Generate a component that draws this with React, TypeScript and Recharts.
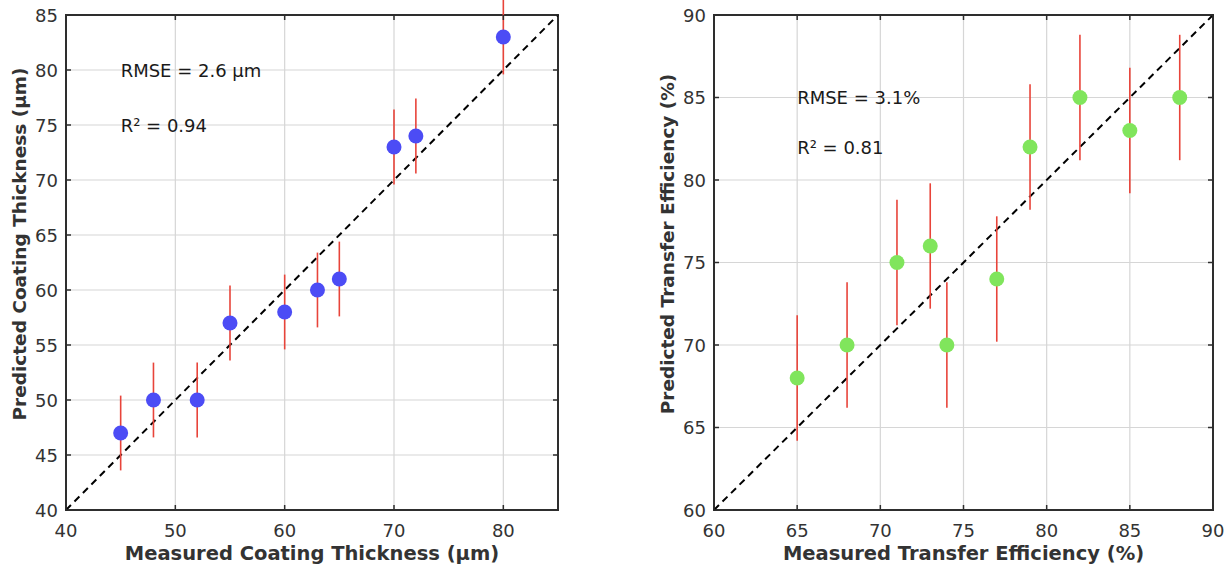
import React from 'react'
import {
  ScatterChart,
  Scatter,
  XAxis,
  YAxis,
  CartesianGrid,
  ErrorBar,
  ReferenceLine,
  ReferenceDot,
  ReferenceArea
} from 'recharts'

// coating thickness panel
const coatMeasured = [45, 48, 52, 55, 60, 63, 65, 70, 72, 80]
const coatPredicted = [47, 50, 50, 57, 58, 60, 61, 73, 74, 83]
const coatError = [3.4, 3.4, 3.4, 3.4, 3.4, 3.4, 3.4, 3.4, 3.4, 3.4]
const coatXTicks = [40, 50, 60, 70, 80]
const coatYTicks = [40, 45, 50, 55, 60, 65, 70, 75, 80, 85]

// transfer efficiency panel
const effMeasured = [65, 68, 71, 73, 74, 77, 79, 82, 85, 88]
const effPredicted = [68, 70, 75, 76, 70, 74, 82, 85, 83, 85]
const effError = [3.8, 3.8, 3.8, 3.8, 3.8, 3.8, 3.8, 3.8, 3.8, 3.8]
const effXTicks = [60, 65, 70, 75, 80, 85, 90]
const effYTicks = [60, 65, 70, 75, 80, 85, 90]

const AXIS = '#2e2e2e'
const TEXT = '#333333'
const FONT = '"DejaVu Sans", Verdana, sans-serif'

type Row = { meas: number; pred: number; err: number }

function toRows(meas: number[], pred: number[], err: number[]): Row[] {
  return meas.map((m, i) => ({ meas: m, pred: pred[i], err: err[i] }))
}

function BottomTick(props: any) {
  const { x, y, payload } = props
  return (
    <g>
      <line x1={x} x2={x} y1={y} y2={y - 5} stroke={AXIS} strokeWidth={1.5} />
      <text x={x} y={y + 20} textAnchor="middle" dominantBaseline="central" fontSize={18} fill={TEXT} fontFamily={FONT}>
        {payload.value}
      </text>
    </g>
  )
}

function TopTick(props: any) {
  const { x, y } = props
  return <line x1={x} x2={x} y1={y} y2={y + 5} stroke={AXIS} strokeWidth={1.5} />
}

function LeftTick(props: any) {
  const { x, y, payload } = props
  return (
    <g>
      <line x1={x} x2={x + 5} y1={y} y2={y} stroke={AXIS} strokeWidth={1.5} />
      <text x={x - 8} y={y} textAnchor="end" dominantBaseline="central" fontSize={18} fill={TEXT} fontFamily={FONT}>
        {payload.value}
      </text>
    </g>
  )
}

function RightTick(props: any) {
  const { x, y } = props
  return <line x1={x} x2={x - 5} y1={y} y2={y} stroke={AXIS} strokeWidth={1.5} />
}

interface PanelProps {
  width: number
  rows: Row[]
  domain: [number, number]
  xTicks: number[]
  yTicks: number[]
  leftWidth: number
  rightMargin: number
  yLabelX: number
  color: string
  title: string
  xLabel: string
  yLabel: string
  notes: { x: number; y: number; text: string }[]
}

const HEIGHT = 568
const TOP = 15
const BOTTOM_AXIS = 58

function ParityPanel(p: PanelProps) {
  const plotLeft = p.leftWidth
  const plotRight = p.width - p.rightMargin
  const plotMid = (plotLeft + plotRight) / 2
  const yLabelMid = 244
  return (
    <div style={{ position: 'relative', width: p.width, height: HEIGHT }}>
      <ScatterChart width={p.width} height={HEIGHT} margin={{ top: TOP - 1, right: p.rightMargin - 1, bottom: 0, left: 0 }}>
        <CartesianGrid stroke="#d6d6d6" strokeWidth={1.2} />
        <XAxis
          type="number"
          dataKey="meas"
          domain={p.domain}
          ticks={p.xTicks}
          allowDataOverflow
          height={BOTTOM_AXIS}
          tickSize={0}
          tickMargin={0}
          tickLine={false}
          tick={<BottomTick />}
          axisLine={false}
        />
        <XAxis
          xAxisId="top"
          orientation="top"
          type="number"
          dataKey="meas"
          domain={p.domain}
          ticks={p.xTicks}
          allowDataOverflow
          height={1}
          tickSize={0}
          tickMargin={0}
          tickLine={false}
          tick={<TopTick />}
          axisLine={false}
        />
        <YAxis
          type="number"
          dataKey="pred"
          domain={p.domain}
          ticks={p.yTicks}
          allowDataOverflow
          width={p.leftWidth}
          tickSize={0}
          tickMargin={0}
          tickLine={false}
          tick={<LeftTick />}
          axisLine={false}
        />
        <YAxis
          yAxisId="right"
          orientation="right"
          type="number"
          dataKey="pred"
          domain={p.domain}
          ticks={p.yTicks}
          allowDataOverflow
          width={1}
          tickSize={0}
          tickMargin={0}
          tickLine={false}
          tick={<RightTick />}
          axisLine={false}
        />
        <ReferenceLine
          segment={[
            { x: p.domain[0], y: p.domain[0] },
            { x: p.domain[1], y: p.domain[1] }
          ]}
          stroke="#000000"
          strokeWidth={2}
          strokeDasharray="7 5"
        />
        {p.notes.map((n) => (
          <ReferenceDot
            key={n.text}
            x={n.x}
            y={n.y}
            r={0}
            shape={(s: any) => (
              <text x={s.cx} y={s.cy} dominantBaseline="central" fontSize={18} fill="#1a1a1a" fontFamily={FONT}>
                {n.text}
              </text>
            )}
          />
        ))}
        <Scatter
          data={p.rows}
          isAnimationActive={false}
          shape={(s: any) => <circle cx={s.cx} cy={s.cy} r={7.5} fill={p.color} />}
        />
        <Scatter data={p.rows} isAnimationActive={false} shape={() => <g />}>
          <ErrorBar dataKey="err" direction="y" width={0} stroke="#e8443a" strokeWidth={1.6} isAnimationActive={false} />
        </Scatter>
        <ReferenceArea
          x1={p.domain[0]}
          x2={p.domain[1]}
          y1={p.domain[0]}
          y2={p.domain[1]}
          fill="none"
          fillOpacity={0}
          stroke={AXIS}
          strokeWidth={2}
        />
      </ScatterChart>
      <svg
        width={p.width}
        height={HEIGHT}
        style={{ position: 'absolute', left: 0, top: 0, pointerEvents: 'none' }}
      >
        <text
          x={plotMid}
          y={560}
          textAnchor="middle"
          fontSize={19.5}
          fontWeight="bold"
          fill={TEXT}
          fontFamily={FONT}
        >
          {p.xLabel}
        </text>
        <text
          x={p.yLabelX}
          y={yLabelMid}
          textAnchor="middle"
          dominantBaseline="central"
          fontSize={18.5}
          fontWeight="bold"
          fill={TEXT}
          fontFamily={FONT}
          transform={`rotate(-90 ${p.yLabelX} ${yLabelMid})`}
        >
          {p.yLabel}
        </text>
      </svg>
      <div style={{ position: 'absolute', left: 0, top: 7, width: p.width, height: 6, overflow: 'hidden' }}>
        <svg width={p.width} height={6}>
          <text x={plotMid} y={1} textAnchor="middle" fontSize={16} fontWeight="bold" fill="#222" fontFamily={FONT}>
            {p.title}
          </text>
        </svg>
      </div>
    </div>
  )
}

export default function App() {
  return (
    <div style={{ display: 'flex', width: 1227, height: HEIGHT, background: '#fff' }}>
      <style>{'body{margin:0}'}</style>
      <ParityPanel
        width={600}
        rows={toRows(coatMeasured, coatPredicted, coatError)}
        domain={[40, 85]}
        xTicks={coatXTicks}
        yTicks={coatYTicks}
        leftWidth={66}
        rightMargin={42}
        yLabelX={19}
        color="#4c4cf5"
        title="Coating Thickness: Predicted vs. Measured"
        xLabel="Measured Coating Thickness (µm)"
        yLabel="Predicted Coating Thickness (µm)"
        notes={[
          { x: 45, y: 80, text: 'RMSE = 2.6 µm' },
          { x: 45, y: 75, text: 'R² = 0.94' }
        ]}
      />
      <ParityPanel
        width={627}
        rows={toRows(effMeasured, effPredicted, effError)}
        domain={[60, 90]}
        xTicks={effXTicks}
        yTicks={effYTicks}
        leftWidth={114}
        rightMargin={14}
        yLabelX={67}
        color="#80e55c"
        title="Transfer Efficiency: Predicted vs. Measured"
        xLabel="Measured Transfer Efficiency (%)"
        yLabel="Predicted Transfer Efficiency (%)"
        notes={[
          { x: 65, y: 85, text: 'RMSE = 3.1%' },
          { x: 65, y: 82, text: 'R² = 0.81' }
        ]}
      />
    </div>
  )
}
